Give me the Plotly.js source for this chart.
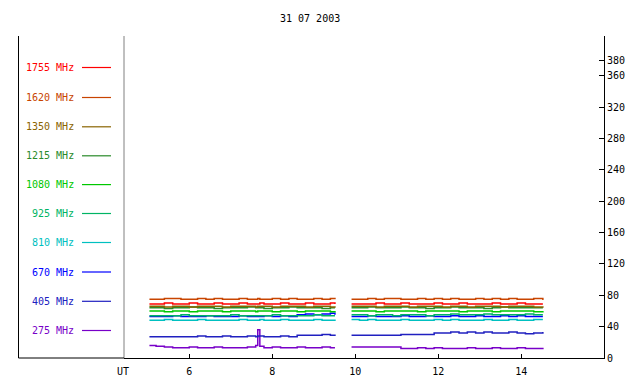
<!DOCTYPE html>
<html>
<head>
<meta charset="utf-8">
<script src="https://cdn.plot.ly/plotly-3.0.1.min.js"></script>
<style>html,body{margin:0;padding:0;background:#fff;}#chart{width:640px;height:384px;}</style>
</head>
<body>
<div id="chart"></div>
<script>
// Time in hours UT (null row separates the two recording segments)
const timeUT = [5.04, 5.2, 5.4, 5.6, 5.8, 6.0, 6.2, 6.4, 6.6, 6.8, 7.0, 7.2, 7.4, 7.6, 7.65, 7.7, 7.8, 8.0, 8.2, 8.4, 8.6, 8.8, 9.0, 9.2, 9.4, 9.51,
  9.7,
  9.91, 10.1, 10.3, 10.5, 10.7, 10.9, 11.1, 11.3, 11.5, 11.7, 11.9, 12.1, 12.3, 12.5, 12.7, 12.9, 13.1, 13.3, 13.5, 13.7, 13.9, 14.1, 14.3, 14.52];

const freqLabels = ["1755 MHz", "1620 MHz", "1350 MHz", "1215 MHz", "1080 MHz", "925 MHz", "810 MHz", "670 MHz", "405 MHz", "275 MHz"];
const freqColors = ["#ff0000", "#c84400", "#8a6400", "#2a8a2a", "#00c800", "#00b464", "#00c0c0", "#0000ff", "#2020c0", "#7800c8"];

const v1755 = [69,69,70,69,69,70,69,69,70,69,69,70,69,69,69,70,69,69,70,69,69,70,69,69,70,69, null,
  69,69,69,70,69,69,70,69,69,69,70,69,69,70,69,69,69,70,69,69,70,69,69,69];
const v1620 = [75,75,76,76,75,75,76,75,76,75,75,76,75,75,76,75,75,76,75,76,75,75,76,75,76,75, null,
  75,75,76,75,76,76,75,75,76,75,76,75,76,75,75,76,75,76,75,76,75,75,76,74];
const v1350 = [66,66,65,66,66,65,66,66,66,65,66,66,66,65,66,66,66,65,66,66,66,65,66,66,65,66, null,
  66,66,66,65,66,66,66,65,66,66,66,65,66,66,65,66,66,66,65,66,66,66,65,66];
const v1215 = [64,64,63,64,64,65,64,64,63,64,64,64,65,64,64,64,63,64,64,65,64,64,64,63,64,64, null,
  64,64,65,64,64,64,65,64,64,63,64,64,65,64,64,64,63,64,65,64,64,64,64,64];
const v1080 = [60,60,59,60,60,59,60,60,60,59,60,60,60,59,60,60,60,59,60,60,59,60,60,60,59,60, null,
  60,60,60,59,60,60,60,60,59,60,60,60,60,59,60,60,60,59,60,60,60,60,59,60];
const v925 = [54,54,54,54,55,54,54,54,54,54,55,54,54,54,54,54,54,55,54,54,54,54,55,54,54,54, null,
  55,55,54,55,55,54,55,55,55,54,55,55,56,55,55,55,56,55,55,55,55,56,55,55];
const v810 = [48,48,49,48,48,48,49,48,48,48,48,49,48,48,48,49,48,48,49,48,48,48,49,48,48,49, null,
  49,48,49,48,48,48,49,48,48,48,49,48,49,48,48,48,49,48,48,49,48,48,49,49];
const v670 = [53,53,53,54,53,53,53,54,53,53,53,54,53,53,53,53,54,53,54,53,55,56,55,56,57,55, null,
  53,53,54,53,53,53,54,53,53,54,53,53,54,53,53,54,53,53,54,53,54,53,53,53];
const v405 = [27,27,27,27,27,27,28,27,27,28,27,27,28,27,28,28,27,27,28,27,29,29,29,30,29,30, null,
  29,29,29,29,29,29,30,30,30,30,32,32,33,32,33,32,33,32,32,33,32,31,32,33];
const v275 = [16,15,14,13,13,14,13,13,14,13,13,13,14,16,36,15,13,14,13,13,14,13,13,14,13,13, null,
  14,14,14,14,14,14,12,12,13,12,13,12,12,12,13,12,12,13,12,12,13,12,12,13];

const yTicks = [0, 40, 80, 120, 160, 200, 240, 280, 320, 360, 380];
const xTicks = [6, 8, 10, 12, 14];

const seriesValues = [v1755, v1620, v1350, v1215, v1080, v925, v810, v670, v405, v275];

const mono = "DejaVu Sans Mono, Liberation Mono, monospace";

// draw order: low frequencies first, red on top of the cluster
const drawOrder = [9, 8, 7, 6, 5, 4, 3, 2, 0, 1];
const traces = drawOrder.map(i => ({
  x: timeUT,
  y: seriesValues[i],
  type: "scatter",
  mode: "lines",
  name: freqLabels[i],
  line: {color: freqColors[i], width: 1.5, shape: "hv"},
  connectgaps: false,
  hoverinfo: "none"
}));

// Legend panel built in paper coordinates (left margin)
const plotL = 124, plotW = 480, plotT = 36, plotH = 322;
const px = x => (x - plotL) / plotW;
const py = y => (plotT + plotH - y) / plotH;
const rowY = [67.5, 97.5, 126.8, 155.8, 184.6, 213.5, 242.5, 272, 301.3, 330.5];

const shapes = [
  {type: "line", xref: "paper", yref: "paper", x0: 0, x1: 0, y0: 0, y1: 1, line: {color: "#808080", width: 1}},
  {type: "line", xref: "paper", yref: "paper", x0: px(18.5), x1: px(18.5), y0: 0, y1: 1, line: {color: "#000", width: 1}},
  {type: "line", xref: "paper", yref: "paper", x0: px(18.5), x1: 0, y0: 0, y1: 0, line: {color: "#000", width: 1}}
];
const annotations = [
  {text: "31 07 2003", xref: "paper", yref: "paper", x: px(310), y: py(18), showarrow: false, xanchor: "center", yanchor: "middle", font: {family: mono, size: 10, color: "#000"}},
  {text: "UT", xref: "paper", yref: "paper", x: px(123), y: py(371), showarrow: false, xanchor: "center", yanchor: "middle", font: {family: mono, size: 10, color: "#000"}}
];
freqLabels.forEach((lab, i) => {
  shapes.push({type: "line", xref: "paper", yref: "paper", x0: px(82), x1: px(111), y0: py(rowY[i]), y1: py(rowY[i]), line: {color: freqColors[i], width: 1.2}});
  annotations.push({text: lab, xref: "paper", yref: "paper", x: px(76), y: py(rowY[i]), showarrow: false, xanchor: "right", yanchor: "middle", font: {family: mono, size: 10, color: freqColors[i]}});
});

const layout = {
  width: 640, height: 384,
  margin: {l: plotL, r: 36, t: plotT, b: 26, pad: 0},
  paper_bgcolor: "#fff", plot_bgcolor: "#fff",
  showlegend: false,
  font: {family: mono, size: 10, color: "#000"},
  xaxis: {
    range: [4.427, 15.993], tickvals: xTicks, ticktext: xTicks.map(String),
    ticks: "inside", ticklen: 4, tickcolor: "#000", showgrid: false, zeroline: false,
    ticklabelstandoff: 4,
    showline: true, linecolor: "#000", linewidth: 1, tickfont: {family: mono, size: 10, color: "#000"}
  },
  yaxis: {
    side: "right", range: [0, 410.6], tickvals: yTicks, ticktext: yTicks.map(String),
    ticks: "inside", ticklen: 5, tickcolor: "#000", showgrid: false, zeroline: false,
    showline: true, linecolor: "#000", linewidth: 1, tickfont: {family: mono, size: 10, color: "#000"}
  },
  shapes: shapes,
  annotations: annotations
};

Plotly.newPlot("chart", traces, layout, {displayModeBar: false, staticPlot: true});
</script>
</body>
</html>
